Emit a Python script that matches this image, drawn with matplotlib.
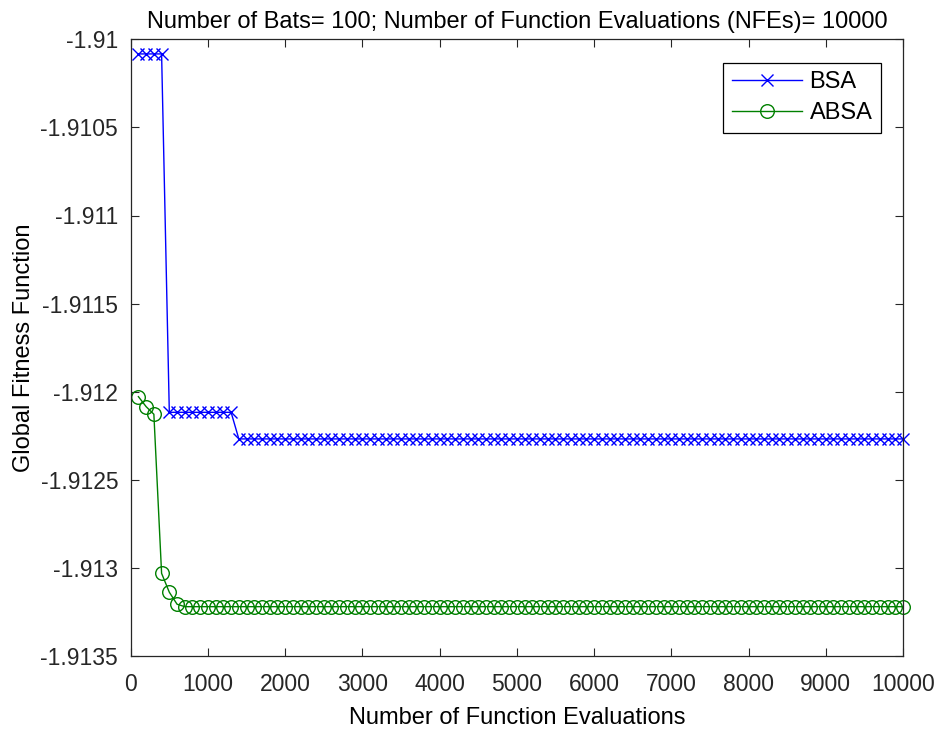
import numpy as np
import matplotlib
matplotlib.use("Agg")
import matplotlib.pyplot as plt
from matplotlib.ticker import FuncFormatter

plt.rcParams['font.family'] = ['Liberation Sans', 'DejaVu Sans']

# Data
nfe = np.arange(100, 10001, 100)
bsa = ([-1.910083] * 4) + ([-1.912117] * 9) + ([-1.912268] * 87)
absa = [-1.912028, -1.912085, -1.912128, -1.913031, -1.913138, -1.913206] + ([-1.91322] * 94)

title = "Number of Bats= 100; Number of Function Evaluations (NFEs)= 10000"
xlabel = "Number of Function Evaluations"
ylabel = "Global Fitness Function"
xticks = np.arange(0, 10001, 1000)
yticks = [-1.9135, -1.913, -1.9125, -1.912, -1.9115, -1.911, -1.9105, -1.91]

FS = 17
TFS = 16.5

fig = plt.figure(figsize=(9.39, 7.30), dpi=100)
L, R, T, B = 130.7, 903.0, 39.3, 656.0
ax = fig.add_axes([L/939, 1-B/730, (R-L)/939, (B-T)/730])

ax.plot(nfe, bsa, color='#0000ff', marker='x', markersize=9, markeredgewidth=1.0,
        linewidth=1.0, label='BSA', clip_on=False)
ax.plot(nfe, absa, color='#008000', marker='o', markersize=9.8, markerfacecolor='none',
        markeredgewidth=1.0, linewidth=1.0, label='ABSA', clip_on=False)

ax.set_xlim(0, 10000)
ax.set_ylim(-1.9135, -1.91)
ax.set_xticks(xticks)
ax.set_yticks(yticks)
ax.yaxis.set_major_formatter(FuncFormatter(lambda v, p: ('%.4f' % v).rstrip('0').rstrip('.')))
ax.tick_params(direction='in', top=True, right=True, labelsize=TFS, length=5.5, width=0.8,
               colors='#262626')
ax.tick_params(axis='x', pad=12)
ax.tick_params(axis='y', pad=9)
for lbl in ax.get_xticklabels() + ax.get_yticklabels():
    lbl.set_color('#262626')
for s in ax.spines.values():
    s.set_linewidth(0.9)
    s.set_color('#262626')

ax.set_title(title, fontsize=FS, pad=8)
ax.set_xlabel(xlabel, fontsize=FS, labelpad=8)
ax.set_ylabel(ylabel, fontsize=FS, labelpad=4)

leg = ax.legend(loc='upper right', bbox_to_anchor=(0.971, 0.962), fontsize=FS, fancybox=False,
                edgecolor='black', framealpha=1, borderaxespad=0, handlelength=3.0,
                handletextpad=0.3, borderpad=0.35, labelspacing=0.4)
leg.get_frame().set_linewidth(0.9)

fig.savefig("out.png", dpi=100)
